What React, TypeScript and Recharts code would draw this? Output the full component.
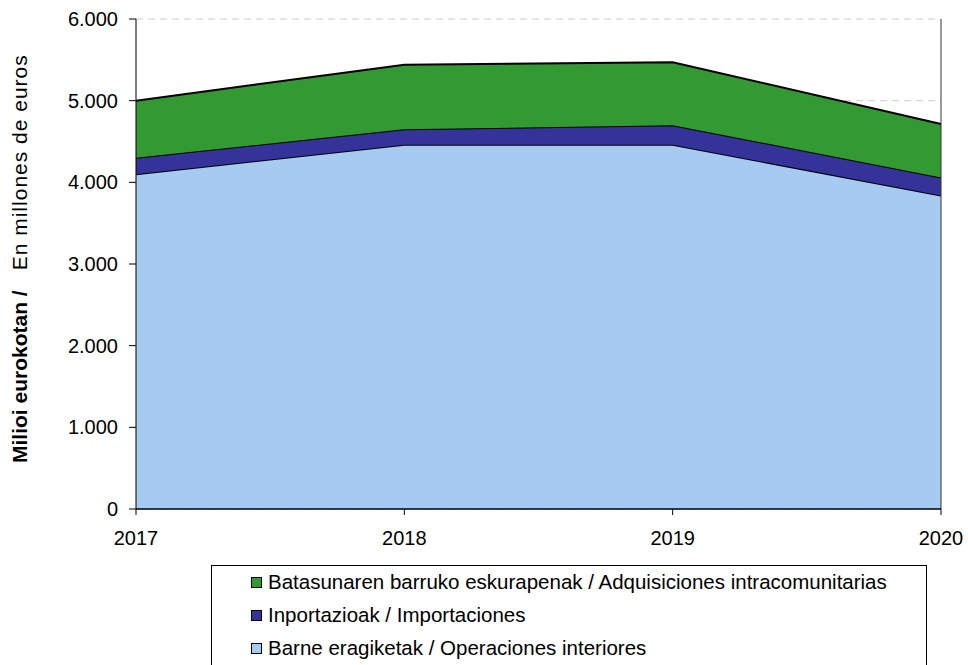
import React from 'react';
import {
    AreaChart,
    Area,
    XAxis,
    YAxis,
    CartesianGrid,
    ReferenceLine,
} from 'recharts';

const years = ['2017', '2018', '2019', '2020'];
const barne = [4100, 4460, 4460, 3840];
const inportazioak = [200, 190, 240, 220];
const batasun = [700, 790, 770, 655];
const yTicks = [0, 1000, 2000, 3000, 4000, 5000, 6000];

const series = [
    { key: 'batasun', name: 'Batasunaren barruko eskurapenak / Adquisiciones intracomunitarias', color: '#339933' },
    { key: 'inportazioak', name: 'Inportazioak / Importaciones', color: '#333399' },
    { key: 'barne', name: 'Barne eragiketak / Operaciones interiores', color: '#A6CAF0' },
];

const data = years.map((year, i) => ({
    year,
    barne: barne[i],
    inportazioak: inportazioak[i],
    batasun: batasun[i],
}));

const FONT = '"Liberation Sans", Arial, sans-serif';

const fmt = (v: number) => String(v).replace(/\B(?=(\d{3})+(?!\d))/g, '.');

function YTitle() {
    return (
        <text
            transform="rotate(-90)"
            x={-463}
            y={27}
            textAnchor="start"
            fontFamily={FONT}
            fontSize={21}
            fill="#000"
        >
            <tspan fontWeight="bold">Milioi eurokotan /</tspan>
            <tspan dx={20} letterSpacing={1}>En millones de euros</tspan>
        </text>
    );
}

function LegendBox() {
    // legend listed top to bottom like the original
    return (
        <div
            style={{
                position: 'absolute',
                left: 211,
                top: 565,
                width: 716,
                height: 120,
                border: '1px solid #000',
                boxSizing: 'border-box',
                fontFamily: FONT,
                fontSize: 20.5,
                color: '#000',
            }}
        >
            {series.map((s, i) => (
                <div
                    key={s.key}
                    style={{
                        position: 'absolute',
                        left: 39,
                        top: 4 + i * 33,
                        height: 24,
                        display: 'flex',
                        alignItems: 'center',
                        whiteSpace: 'nowrap',
                    }}
                >
                    <span
                        style={{
                            display: 'inline-block',
                            width: 9,
                            height: 9,
                            background: s.color,
                            border: '1px solid #000',
                            marginRight: 6,
                        }}
                    />
                    {s.name}
                </div>
            ))}
        </div>
    );
}

export default function App() {
    return (
        <div style={{ position: 'absolute', left: 0, top: 0, width: 968, height: 665, overflow: 'hidden', background: '#fff' }}>
            <AreaChart
                width={968}
                height={665}
                data={data}
                margin={{ top: 19, right: 27, bottom: 116, left: 0 }}
            >
                <CartesianGrid vertical={false} strokeDasharray="7 5" stroke="#cccccc" />
                <XAxis
                    dataKey="year"
                    axisLine={{ stroke: '#000', strokeWidth: 1.5 }}
                    tickLine={{ stroke: '#000' }}
                    tickSize={6}
                    tick={{ fill: '#000', fontSize: 20, fontFamily: FONT }}
                    tickMargin={16}
                    height={40}
                    interval={0}
                />
                <YAxis
                    width={136}
                    domain={[0, 6000]}
                    ticks={yTicks}
                    tickFormatter={fmt}
                    axisLine={{ stroke: '#000' }}
                    tickLine={{ stroke: '#000' }}
                    tickSize={7}
                    tickMargin={11}
                    tick={{ fill: '#000', fontSize: 20, fontFamily: FONT }}
                    label={{ content: () => <YTitle /> }}
                />
                <Area
                    type="linear"
                    dataKey="barne"
                    stackId="1"
                    stroke="#000"
                    strokeWidth={2}
                    fill="#A6CAF0"
                    fillOpacity={1}
                    isAnimationActive={false}
                />
                <Area
                    type="linear"
                    dataKey="inportazioak"
                    stackId="1"
                    stroke="#000"
                    strokeWidth={2}
                    fill="#333399"
                    fillOpacity={1}
                    isAnimationActive={false}
                />
                <Area
                    type="linear"
                    dataKey="batasun"
                    stackId="1"
                    stroke="#000"
                    strokeWidth={2}
                    fill="#339933"
                    fillOpacity={1}
                    isAnimationActive={false}
                />
                <ReferenceLine x="2020" stroke="#333" strokeWidth={1} />
            </AreaChart>
            <LegendBox />
        </div>
    );
}
